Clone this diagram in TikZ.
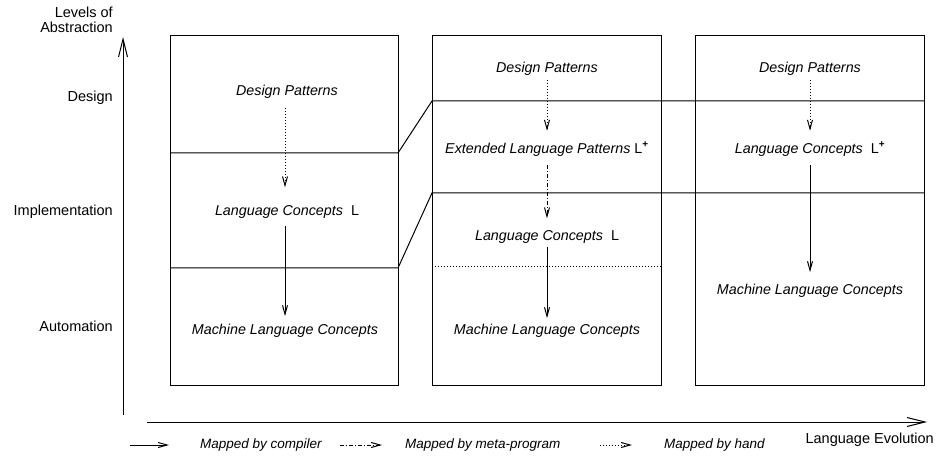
\documentclass[tikz,border=0pt]{standalone}
\usepackage{fontspec}
\setmainfont{Liberation Sans}
\usetikzlibrary{arrows.meta}
\tikzstyle{level} = [anchor=east, inner sep=0pt, font=\fontsize{14.5}{15}\selectfont]
\tikzstyle{concept} = [inner sep=3pt, font=\fontsize{14.3}{16}\selectfont\itshape]
\tikzstyle{legend} = [anchor=west, inner sep=0pt, font=\fontsize{13.5}{16}\selectfont\itshape]
\tikzstyle{frame} = [line width=1pt]
\tikzstyle{axis} = [line width=1pt, -{Straight Barb[length=18pt, width=9pt]}]
\tikzstyle{compiler} = [line width=1pt, -{Straight Barb[length=9pt, width=5pt]}, shorten <=4pt, shorten >=5pt]
\tikzstyle{metaprog} = [compiler, dash pattern=on 4pt off 2pt on 1pt off 2pt]
\tikzstyle{byhand} = [compiler, dotted]

\begin{document}
\begin{tikzpicture}[x=1pt, y=-1pt]
    \useasboundingbox (0,0) rectangle (938,457);

    % axes
    \draw [axis] (123,415) -- (123,37);
    \draw [axis] (147,422) -- (927,422);
    \node (levels) [level, align=right] at (113,20) {Levels of\\Abstraction};
    \node (design) [level] at (113,98) {Design};
    \node (impl) [level] at (113,212) {Implementation};
    \node (autom) [level] at (113,326) {Automation};
    \node (evol) [level] at (934,440) {Language Evolution};

    % the three stages
    \draw [frame] (170,36) rectangle (398,385);
    \draw [frame] (432,36) rectangle (661,385);
    \draw [frame] (695,36) rectangle (924,385);
    \draw [frame] (170,153) -- (398,153) -- (432,101) -- (924,101);
    \draw [frame] (170,268) -- (398,268) -- (432,193) -- (924,193);
    \draw [frame, dotted] (432,267) -- (661,267);

    % stage 1
    \node (dp1) [concept] at (287,92) {Design Patterns};
    \node (lc1) [concept] at (287,212) {Language Concepts\ \ \upshape L};
    \node (ml1) [concept] at (285,331) {Machine Language Concepts};
    \draw [byhand, shorten <=6pt, shorten >=15pt] (dp1.south -| 285,0) -- (lc1.north -| 285,0);
    \draw [compiler] (lc1.south -| 285,0) -- (ml1.north -| 285,0);

    % stage 2
    \node (dp2) [concept] at (547,69) {Design Patterns};
    \node (elp2) [concept] at (547,149) {Extended Language Patterns \upshape L\textsuperscript{\textbf{+}}};
    \node (lc2) [concept] at (547,237) {Language Concepts\ \ \upshape L};
    \node (ml2) [concept] at (547,331) {Machine Language Concepts};
    \draw [byhand, shorten <=1pt, shorten >=8pt] (dp2.south -| 547,0) -- (elp2.north -| 547,0);
    \draw [metaprog, shorten <=6pt, shorten >=9pt] (elp2.south -| 547,0) -- (lc2.north -| 547,0);
    \draw [compiler, shorten <=0pt, shorten >=3pt] (lc2.south -| 547,0) -- (ml2.north -| 547,0);

    % stage 3
    \node (dp3) [concept] at (810,69) {Design Patterns};
    \node (lc3) [concept] at (810,149) {Language Concepts\ \ \upshape L\textsuperscript{\textbf{+}}};
    \node (ml3) [concept] at (810,291) {Machine Language Concepts};
    \draw [byhand, shorten <=1pt, shorten >=8pt] (dp3.south -| 810,0) -- (lc3.north -| 810,0);
    \draw [compiler, shorten <=6pt, shorten >=9pt] (lc3.south -| 810,0) -- (ml3.north -| 810,0);

    % legend
    \coordinate (k1a) at (130,445);
    \coordinate (k1b) at (169,445);
    \coordinate (k2a) at (340,445);
    \coordinate (k2b) at (382,445);
    \coordinate (k3a) at (600,445);
    \coordinate (k3b) at (632,445);
    \draw [compiler, shorten <=0pt, shorten >=0pt] (k1a) -- (k1b);
    \draw [metaprog, shorten <=0pt, shorten >=0pt] (k2a) -- (k2b);
    \draw [byhand, shorten <=0pt, shorten >=0pt] (k3a) -- (k3b);
    \node (key1) [legend] at (200,445) {Mapped by compiler};
    \node (key2) [legend] at (405,445) {Mapped by meta-program};
    \node (key3) [legend] at (664,445) {Mapped by hand};
\end{tikzpicture}
\end{document}
